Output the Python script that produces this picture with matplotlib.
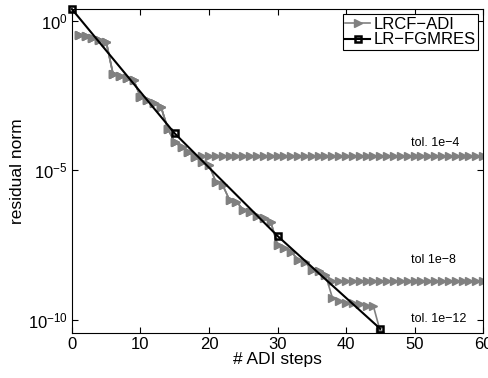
import matplotlib
matplotlib.use("Agg")
import matplotlib.pyplot as plt
import numpy as np

plt.rcParams['font.family'] = ['Liberation Sans', 'DejaVu Sans']

# LRCF-ADI residual norms (log10), tol 1e-12 run, steps 1..45
adi_steps = list(range(1, 46))
adi_log = [-0.48, -0.52, -0.58, -0.63, -0.70,
           -1.78, -1.84, -1.90, -1.98,
           -2.54, -2.65, -2.75, -2.88,
           -3.62,
           -4.06, -4.22, -4.39,
           -4.55, -4.72, -4.82,
           -5.39, -5.50,
           -6.00, -6.05,
           -6.33, -6.39,
           -6.55, -6.61, -6.72,
           -7.50, -7.61, -7.73,
           -8.00, -8.06,
           -8.34, -8.39,
           -8.50,
           -9.27, -9.38, -9.43, -9.45, -9.48, -9.54, -9.56,
           -10.40]

# runs that stagnate (tol 1e-4 and tol 1e-8)
tol4_split = 17
tol4_plateau = [-4.52] * 43      # steps 18..60
tol8_split = 37
tol8_plateau = [-8.72] * 23      # steps 38..60

# LR-FGMRES
fg_steps = [0, 15, 30, 45]
fg_res = [2.45, 1.7e-4, 6.3e-8, 4.9e-11]

tol_labels = ["tol. 1e\u22124", "tol 1e\u22128", "tol. 1e\u221212"]
tol_pos = [(49.5, 10**-4.08), (49.5, 10**-8.02), (49.5, 10**-9.98)]

gray = (0.5, 0.5, 0.5)
fig = plt.figure(figsize=(4.89, 3.78), dpi=100)
ax = fig.add_axes([0.147, 0.119, 0.841, 0.857])

adi_res = 10.0 ** np.array(adi_log)
x4 = adi_steps[:tol4_split] + list(range(tol4_split + 1, 61))
y4 = list(adi_res[:tol4_split]) + list(10.0 ** np.array(tol4_plateau))
x8 = adi_steps[:tol8_split] + list(range(tol8_split + 1, 61))
y8 = list(adi_res[:tol8_split]) + list(10.0 ** np.array(tol8_plateau))

mk = dict(color=gray, marker='>', markersize=6, markerfacecolor=gray,
          markeredgecolor=gray, linewidth=1.2)
ax.semilogy(x4, y4, **mk)
ax.semilogy(x8, y8, **mk)
ax.semilogy(adi_steps, adi_res, label='LRCF\u2212ADI', **mk)
ax.semilogy(fg_steps, fg_res, color='k', marker='s', markersize=4.5,
            markerfacecolor='none', markeredgewidth=1.8, linewidth=1.5,
            label='LR\u2212FGMRES', clip_on=False, zorder=5)

for s, (tx, ty) in zip(tol_labels, tol_pos):
    ax.text(tx, ty, s, fontsize=9, va='center', ha='left')

ax.set_xlim(0, 60)
ax.set_ylim(10**-10.45, 10**0.39)
ax.set_xticks([0, 10, 20, 30, 40, 50, 60])
ax.set_yticks([1e0, 1e-5, 1e-10])
ax.yaxis.set_minor_locator(matplotlib.ticker.NullLocator())
ax.tick_params(direction='in', top=True, right=True, labelsize=12, length=4,
               pad=3)
ax.set_xlabel('# ADI steps', fontsize=12.5, labelpad=0)
ax.set_ylabel('residual norm', fontsize=12.5, labelpad=2)

leg = ax.legend(loc='upper right', fontsize=12, handlelength=1.5,
                handletextpad=0.2, borderpad=0.15, labelspacing=0.05,
                fancybox=False, framealpha=1, edgecolor='k',
                borderaxespad=0.3)
leg.get_frame().set_linewidth(0.8)

fig.savefig('out.png', dpi=100)
